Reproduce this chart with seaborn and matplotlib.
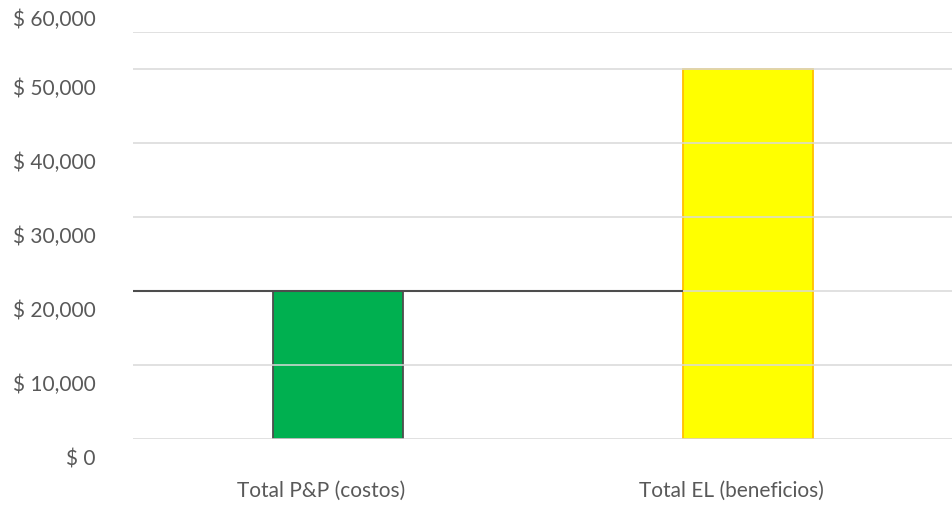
import matplotlib
matplotlib.use("Agg")
import matplotlib.pyplot as plt
import matplotlib.transforms as mtransforms
from matplotlib.ticker import FuncFormatter
import seaborn as sns
import pandas as pd

# Chart data
categories = ["Total P&P (costos)", "Total EL (beneficios)"]
totals = [20000, 50000]
fill_colors = ["#00B050", "#FFFF00"]
edge_colors = ["#4D4D4D", "#FFC000"]
y_ticks = [0, 10000, 20000, 30000, 40000, 50000]
y_top_label = 60000

df = pd.DataFrame({"categoria": categories, "total": totals})

sns.set_theme(style="white")
plt.rcParams["font.family"] = ["Lato", "DejaVu Sans"]

fig = plt.figure(figsize=(9.53, 5.22), dpi=100)
ax = fig.add_axes([133 / 953, 83 / 522, 820 / 953, 407 / 522])

bar_width = 0.317
sns.barplot(data=df, x="categoria", y="total", hue="categoria",
            palette=fill_colors, width=bar_width, legend=False, ax=ax,
            saturation=1, zorder=1)
for patch, ec in zip(ax.patches, edge_colors):
    patch.set_edgecolor(ec)
    patch.set_linewidth(1.3)

ax.set_xlim(-0.5, 1.5)
ax.set_ylim(0, 55000)

# Horizontal gridlines drawn over the bars, plus the top boundary
ax.set_axisbelow(False)
ax.set_yticks(y_ticks)
ax.grid(axis="y", color="#D9D9D9", linewidth=1.1, zorder=2)
ax.axhline(55000, color="#D9D9D9", linewidth=1.1, zorder=2)
for s in ax.spines.values():
    s.set_visible(False)

# Connector line from the left edge to the second bar at the cost level
second_left = ax.patches[1].get_x()
ax.hlines(totals[0], -0.5, second_left, color="#4D4D4D", linewidth=1.5, zorder=4)

fmt = FuncFormatter(lambda v, _: f"$ {v:,.0f}")
ax.yaxis.set_major_formatter(fmt)
label_size = 15
ax.tick_params(axis="y", length=0, pad=27, labelsize=label_size, labelcolor="#595959")
ax.tick_params(axis="x", length=0, pad=30, labelsize=label_size, labelcolor="#595959")
ax.set_xlabel("")
ax.set_ylabel("")

down = mtransforms.ScaledTranslation(0, -18 / 100, fig.dpi_scale_trans)
left = mtransforms.ScaledTranslation(-17 / 100, 0, fig.dpi_scale_trans)
for lbl in ax.get_yticklabels():
    lbl.set_transform(lbl.get_transform() + down)
for lbl in ax.get_xticklabels():
    lbl.set_transform(lbl.get_transform() + left)

# Label for the level above the visible range
top_down = mtransforms.ScaledTranslation(0, -25 / 100, fig.dpi_scale_trans)
ylab_trans = ax.get_yaxis_text1_transform(27)[0]
ax.text(0, y_top_label, fmt(y_top_label, None), transform=ylab_trans + top_down,
        ha="right", va="center", fontsize=label_size, color="#595959", clip_on=False)

fig.savefig("out.png", dpi=100)
